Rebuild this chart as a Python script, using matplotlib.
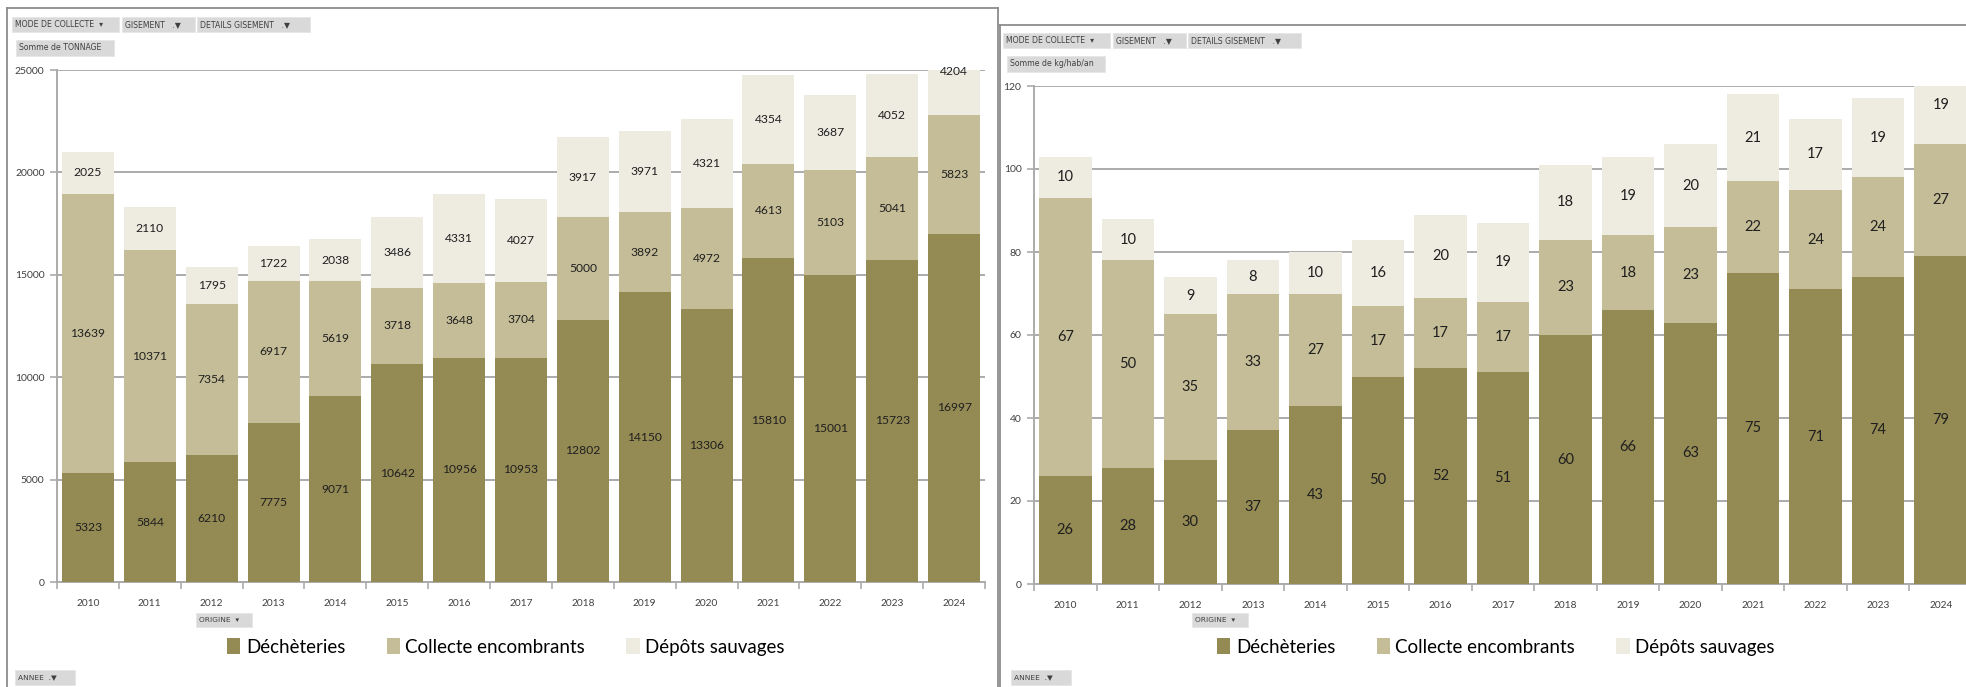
import matplotlib
matplotlib.use("Agg")
import matplotlib.pyplot as plt
import numpy as np
from matplotlib.patches import Rectangle, Patch
from matplotlib.lines import Line2D

W, H = 1966, 687

YEARS = [str(y) for y in range(2010, 2025)]
SERIES = ["Déchèteries", "Collecte encombrants", "Dépôts sauvages"]
COLORS = ["#948A54", "#C4BD97", "#EEECE1"]

# tonnage
TONNE_DECH = [5323, 5844, 6210, 7775, 9071, 10642, 10956, 10953, 12802, 14150, 13306, 15810, 15001, 15723, 16997]
TONNE_ENC = [13639, 10371, 7354, 6917, 5619, 3718, 3648, 3704, 5000, 3892, 4972, 4613, 5103, 5041, 5823]
TONNE_DEP = [2025, 2110, 1795, 1722, 2038, 3486, 4331, 4027, 3917, 3971, 4321, 4354, 3687, 4052, 4204]

# kg/hab/an
KG_DECH = [26, 28, 30, 37, 43, 50, 52, 51, 60, 66, 63, 75, 71, 74, 79]
KG_ENC = [67, 50, 35, 33, 27, 17, 17, 17, 23, 18, 23, 22, 24, 24, 27]
KG_DEP = [10, 10, 9, 8, 10, 16, 20, 19, 18, 19, 20, 21, 17, 19, 19]

LABEL_FONT = ["Lato", "DejaVu Sans"]
UI_FONT = ["DejaVu Sans"]
GRID = "#ABABAB"
TXT = "#404040"


def fx(x):
    return x / W


def fy(y):
    return 1 - y / H


def button(fig, x0, y0, x1, y1, label, size=5.6):
    fig.patches.append(Rectangle((fx(x0), fy(y1)), fx(x1) - fx(x0), fy(y0) - fy(y1),
                                 transform=fig.transFigure, facecolor="#D9D9D9",
                                 edgecolor="#E6E6E6", linewidth=0.6))
    fig.text(fx(x0 + 3), fy((y0 + y1) / 2), label, fontsize=size, color=TXT,
             family=UI_FONT, va="center", ha="left")


def stacked(ax, dech, enc, dep, ymax, step, lsize):
    x = np.arange(len(YEARS))
    bottom = np.zeros(len(YEARS))
    for vals, col in zip([dech, enc, dep], COLORS):
        vals = np.array(vals, dtype=float)
        ax.bar(x, vals, bottom=bottom, width=0.84, color=col, zorder=3)
        for xi, b, v in zip(x, bottom, vals):
            ax.text(xi, b + v / 2, f"{int(v)}", ha="center", va="center",
                    fontsize=lsize, color="#1F1F1F", family=LABEL_FONT, zorder=4)
        bottom += vals

    ax.set_xlim(-0.5, len(YEARS) - 0.5)
    ax.set_ylim(0, ymax)
    ax.set_yticks(np.arange(0, ymax + 1, step))
    ax.yaxis.grid(True, color=GRID, linewidth=1.4, zorder=0)
    ax.set_axisbelow(True)
    ax.set_xticks(x)
    ax.set_xticklabels(YEARS)
    ax.set_xticks(np.arange(-0.5, len(YEARS), 1), minor=True)
    ax.tick_params(axis="x", which="major", length=0, pad=12, labelsize=7.3, labelcolor=TXT)
    ax.tick_params(axis="x", which="minor", length=5, color=GRID, width=1.2)
    ax.tick_params(axis="y", length=5, color=GRID, width=1.2, labelsize=7.5,
                   labelcolor=TXT, pad=4)
    for lab in ax.get_xticklabels() + ax.get_yticklabels():
        lab.set_family(LABEL_FONT)
    for s in ["top", "right"]:
        ax.spines[s].set_visible(False)
    for s in ["left", "bottom"]:
        ax.spines[s].set_color(GRID)
        ax.spines[s].set_linewidth(1.4)


fig = plt.figure(figsize=(W / 100, H / 100), dpi=100)

# left chart: tonnage
ax1 = fig.add_axes([fx(57), fy(582), fx(985) - fx(57), fy(70) - fy(582)])
stacked(ax1, TONNE_DECH, TONNE_ENC, TONNE_DEP, 25000, 5000, 8.7)

# right chart: kg/hab/an (runs off the right edge like the screenshot)
ax2 = fig.add_axes([fx(1034), fy(584), fx(1972) - fx(1034), fy(86) - fy(584)])
stacked(ax2, KG_DECH, KG_ENC, KG_DEP, 120, 20, 10.5)

# panel borders
border = dict(color="#8C8C8C", linewidth=1.3, transform=fig.transFigure)
fig.add_artist(Line2D([fx(7), fx(7)], [0, fy(8)], **border))
fig.add_artist(Line2D([fx(7), fx(998)], [fy(8), fy(8)], **border))
fig.add_artist(Line2D([fx(998), fx(998)], [0, fy(8)], **border))
fig.add_artist(Line2D([fx(1000), fx(1000)], [0, fy(25)], **border))
fig.add_artist(Line2D([fx(1000), 1], [fy(25), fy(25)], **border))

# pivot field buttons
for dx, dy, somme in [(0, 0, "Somme de TONNAGE"), (991, 16, "Somme de kg/hab/an")]:
    button(fig, 12 + dx, 17 + dy, 119 + dx, 32 + dy, "MODE DE COLLECTE  ▾")
    button(fig, 122 + dx, 17 + dy, 195 + dx, 32 + dy, "GISEMENT   .▼")
    button(fig, 197 + dx, 17 + dy, 310 + dx, 32 + dy, "DETAILS GISEMENT   .▼")
    button(fig, 16 + dx, 40 + dy, 114 + dx, 56 + dy, somme)

for dx in [0, 996]:
    button(fig, 196 + dx, 613, 252 + dx, 627, "ORIGINE  ▾", size=5.4)
    button(fig, 15 + dx, 670, 75 + dx, 685, "ANNEE  .▼", size=5.4)

# legends
handles = [Patch(facecolor=c, edgecolor="none") for c in COLORS]
for cx in [fx(506), fx(1496)]:
    fig.legend(handles, SERIES, loc="center", bbox_to_anchor=(cx, fy(647)),
               ncol=3, frameon=False, handlelength=0.7, handleheight=0.9,
               handletextpad=0.3, columnspacing=2.2,
               prop={"family": LABEL_FONT, "size": 13.5})

fig.savefig("out.png", dpi=100)
